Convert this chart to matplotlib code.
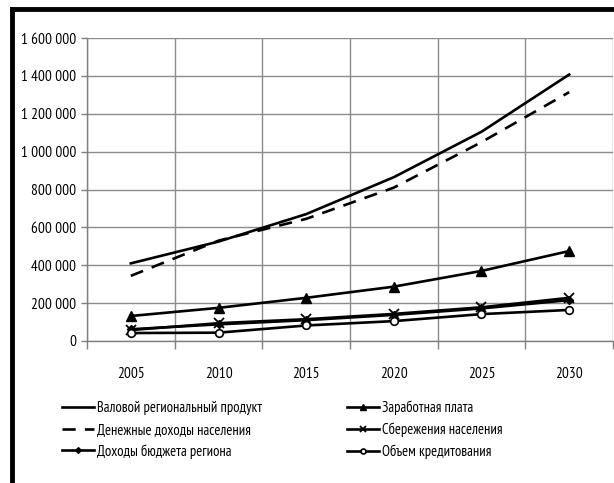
import matplotlib
matplotlib.use('Agg')
import matplotlib.pyplot as plt
from matplotlib.ticker import FuncFormatter, FixedLocator
from matplotlib.lines import Line2D

years = ['2005', '2010', '2015', '2020', '2025', '2030']
grp = [410000, 525000, 670000, 865000, 1105000, 1407000]
wages = [132000, 175000, 228000, 287000, 370000, 475000]
income = [344000, 530000, 645000, 810000, 1050000, 1314000]
savings = [58000, 94000, 115000, 143000, 178000, 228000]
budget = [62000, 88000, 110000, 138000, 172000, 216000]
credit = [42000, 44000, 82000, 105000, 142000, 164000]

names = ['Валовой региональный продукт', 'Заработная плата',
         'Денежные доходы населения', 'Сбережения населения',
         'Доходы бюджета региона', 'Объем кредитования']

plt.rcParams['font.family'] = ['PT Sans Narrow', 'Roboto Condensed', 'DejaVu Sans']
fs = 11
lfs = 10.5

fig = plt.figure(figsize=(6.14, 4.83), dpi=100)
ax = fig.add_axes([87 / 614, 1 - 341 / 483, 526 / 614, 303 / 483])

x = [i + 0.5 for i in range(len(years))]
lw = 1.9
l1, = ax.plot(x, grp, color='black', lw=lw)
l2, = ax.plot(x, wages, color='black', lw=lw, marker='^', ms=6.5)
l3, = ax.plot(x, income, color='black', lw=lw, dashes=(5, 3.5))
l4, = ax.plot(x, savings, color='black', lw=lw, marker='x', ms=7, mew=1.3)
l5, = ax.plot(x, budget, color='black', lw=lw, marker='D', ms=4.5)
l6, = ax.plot(x, credit, color='black', lw=lw, marker='o', ms=5.5,
              mfc='white', mew=1.2)

ax.set_xlim(0, 6)
ax.set_ylim(0, 1600000)
ax.set_yticks(range(0, 1600001, 200000))
ax.yaxis.set_major_formatter(FuncFormatter(lambda v, p: f'{int(v):,}'.replace(',', ' ')))
ax.xaxis.set_major_locator(FixedLocator(range(7)))
ax.xaxis.set_minor_locator(FixedLocator(x))
ax.set_xticklabels([], minor=False)
ax.set_xticklabels(years, minor=True)
ax.tick_params(axis='x', which='major', length=6, color='#808080', width=1)
ax.tick_params(axis='x', which='minor', length=0, pad=19, labelsize=fs)
ax.tick_params(axis='y', length=4, color='#808080', width=1, labelsize=fs, pad=4)
ax.grid(True, which='major', color='#8c8c8c', lw=1)
ax.set_axisbelow(True)
for s in ['top', 'right']:
    ax.spines[s].set_visible(False)
for s in ['left', 'bottom']:
    ax.spines[s].set_color('#808080')
    ax.spines[s].set_linewidth(1)

handles = [l1, l3, l5, l2, l4, l6]
labels = [names[0], names[2], names[4], names[1], names[3], names[5]]
fig.legend(handles, labels, loc='upper left', bbox_to_anchor=(56 / 614, 1 - 395 / 483),
           ncol=2, frameon=False, fontsize=lfs, handlelength=2.2, handletextpad=0.2,
           columnspacing=5.8, labelspacing=0.5, borderaxespad=0, markerscale=0.65)

# thick frame (left and top edges visible)
fig.add_artist(Line2D([12 / 614, 12 / 614], [0, 1 - 8.5 / 483], color='black', lw=3.5,
                      transform=fig.transFigure, solid_capstyle='projecting'))
fig.add_artist(Line2D([12 / 614, 1], [1 - 8.5 / 483, 1 - 8.5 / 483], color='black', lw=3.5,
                      transform=fig.transFigure, solid_capstyle='projecting'))

fig.savefig('out.png', dpi=100)
